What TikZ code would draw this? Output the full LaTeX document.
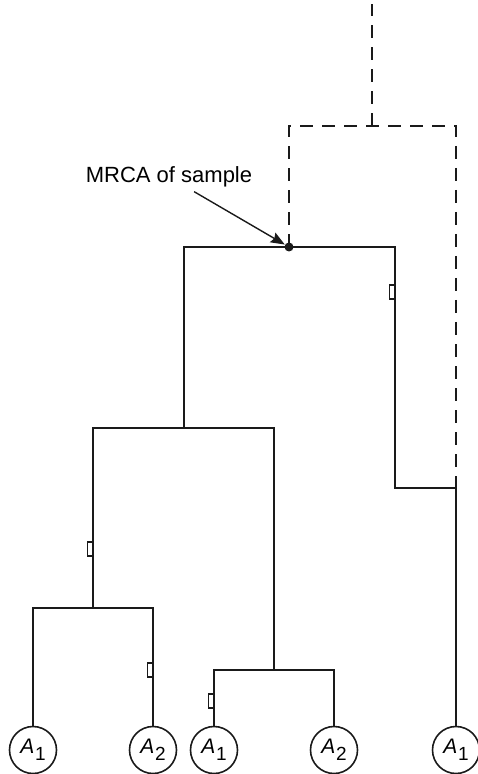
\documentclass[tikz,border=0pt]{standalone}
\usepackage{fontspec}
\setmainfont{Liberation Sans}
\usepackage{xcolor}
\usepackage{tikz}
\usetikzlibrary{positioning, arrows.meta}
\definecolor{trInk}{HTML}{1A1A1A}
\tikzset{
  lineage/.style={
    draw=trInk, line width=1pt
  },
  ancestral/.style={
    lineage, dash pattern=on 6.5pt off 4.5pt
  },
  leaf/.style={
    circle, draw=trInk, line width=0.8pt,
    minimum size=23.5pt, inner sep=0pt,
    font=\fontsize{10.5}{10.5}\selectfont
  },
  mutation/.style={
    rectangle, draw=trInk, line width=0.6pt,
    minimum width=2.6pt, minimum height=7pt,
    inner sep=0pt, anchor=east
  },
  mrcadot/.style={circle, fill=trInk, minimum size=4.5pt, inner sep=0pt},
  pointer/.style={
    -{Stealth[length=7pt, width=5.5pt, inset=1pt]},
    trInk, line width=0.7pt
  },
  callout/.style={font=\fontsize{11}{13}\selectfont, inner sep=2pt}
}
\newcommand{\allele}[1]{\textit{A}\kern0.4pt\raisebox{-3.5pt}{\fontsize{9.5}{9.5}\selectfont #1}}

\begin{document}
\begin{tikzpicture}[x=0.5pt, y=-0.5pt]
      \useasboundingbox (0,0) rectangle (477,774);
      % sampled genes
      \node[leaf] (s1) at (33,750) {\allele{1}};
      \node[leaf] (s2) at (153,750) {\allele{2}};
      \node[leaf] (s3) at (214,750) {\allele{1}};
      \node[leaf] (s4) at (334,750) {\allele{2}};
      \node[leaf] (s5) at (456,750) {\allele{1}};
      % coalescence points
      \coordinate (c12) at (93,608);
      \coordinate (c34) at (274,670);
      \coordinate (c1234) at (184,428);
      \coordinate (mrca) at (289,247);
      \coordinate (r5) at (395,488);
      \coordinate (j5) at (456,488);
      \coordinate (anc) at (372,126);
      \coordinate (top) at (372,4);
      % genealogy of the sample
      \draw[lineage] (s1) |- (c12) -| (s2);
      \draw[lineage] (s3) |- (c34) -| (s4);
      \draw[lineage] (c12) |- (c1234) -| (c34);
      \draw[lineage] (c1234) |- (mrca) -| (r5) -- (j5);
      \draw[lineage] (s5) -- (j5);
      % ancestry above the sample
      \draw[ancestral] (mrca) |- (anc) -| (j5);
      \draw[ancestral] (anc) -- (top);
      % mutations
      \node[mutation, fill=white] (m1) at (395,292) {};
      \node[mutation, fill=white] (m2) at (93,549) {};
      \node[mutation, fill=white] (m3) at (153,670) {};
      \node[mutation, fill=white] (m4) at (214,701) {};
      \node[mrcadot] (dot) at (mrca) {};
      \node[callout] (lbl) at (169,177) {MRCA of sample};
      \draw[pointer] (lbl) -- (dot);
    \end{tikzpicture}
\end{document}
